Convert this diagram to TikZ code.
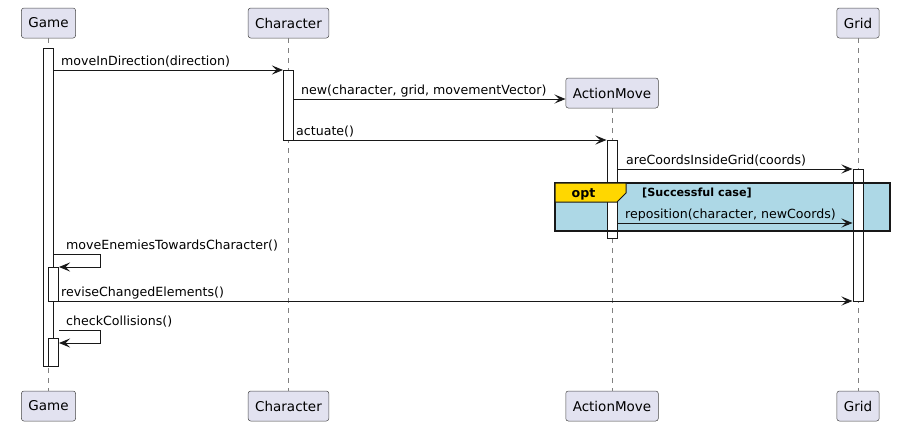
\documentclass[tikz,border=0pt]{standalone}
\usepackage{fontspec}
\setmainfont{DejaVu Sans}
\usetikzlibrary{arrows.meta}
\definecolor{umlline}{HTML}{181818}
\definecolor{umlhead}{HTML}{E2E2F0}
\definecolor{optfill}{HTML}{ADD8E6}
\definecolor{opttab}{HTML}{FFD700}
\begin{document}
\begin{tikzpicture}[x=1pt,y=-1pt,
  every node/.style={font=\fontsize{12.6}{15}\selectfont},
  head/.style={draw=umlline!80,fill=umlhead,rounded corners=2.5pt,line width=0.5pt,
    minimum height=30pt,inner xsep=7pt,font=\fontsize{13.5}{16}\selectfont},
  bar/.style={draw=umlline,fill=white,line width=1pt,minimum width=10pt,inner sep=0pt,anchor=north},
  life/.style={draw=umlline!55,dash pattern=on 5pt off 5pt,line width=0.5pt},
  msg/.style={draw=umlline,line width=1pt,-{Stealth[length=11pt,width=9pt,inset=4.5pt]}},
  lbl/.style={anchor=base west,inner sep=0pt}]
  \useasboundingbox (0,0) rectangle (912,431);
  % participants
  \node[head] (gameTop) at (48.5,23) {Game};
  \node[head] (charTop) at (288.5,23) {Character};
  \node[head] (moveTop) at (612,93) {ActionMove};
  \node[head] (gridTop) at (858,23) {Grid};
  \node[head] (gameBot) at (48.5,406) {Game};
  \node[head] (charBot) at (288.5,406) {Character};
  \node[head] (moveBot) at (612,406) {ActionMove};
  \node[head] (gridBot) at (858,406) {Grid};
  \foreach \p in {game,char,move,grid}
    \draw[life] (\p Top) -- (\p Bot);
  % opt frame
  \fill[optfill] (555,183) rectangle (890,231);
  % activations
  \node[bar,minimum height=318pt] (aGame) at (gameTop |- 0,48) {};
  \node[bar,minimum height=70pt] (aChar) at (charTop |- 0,70) {};
  \node[bar,minimum height=98pt] (aMove) at (moveTop |- 0,140) {};
  \node[bar,minimum height=132pt] (aGrid) at (gridTop |- 0,169) {};
  \node[bar,minimum height=34pt,xshift=5pt] (aEnem) at (gameTop |- 0,267) {};
  \node[bar,minimum height=28pt,xshift=5pt] (aColl) at (gameTop |- 0,338) {};
  \draw[umlline,line width=1.5pt] (555,183) rectangle (890,231);
  \filldraw[fill=opttab,draw=umlline,line width=1pt]
    (555,183) -- (626,183) -- (626,193) -- (617,202) -- (555,202) -- cycle;
  \node[anchor=base,inner sep=0pt,font=\bfseries\fontsize{12.6}{15}\selectfont] (optName) at (583.5,197) {opt};
  \node[lbl,font=\bfseries\fontsize{11.2}{13}\selectfont] (optGuard) at (642,196) {[Successful case]};
  % messages
  \draw[msg] (aGame.east |- 0,70) -- (aChar.west |- 0,70);
  \node[lbl] (lDir) at (61,65) {moveInDirection(direction)};
  \draw[msg] (aChar.east |- 0,99) -- (moveTop.west |- 0,99);
  \node[lbl] (lNew) at (301,94) {new(character, grid, movementVector)};
  \draw[msg] (aChar.east |- 0,140) -- (aMove.west |- 0,140);
  \node[lbl] (lAct) at (296,135) {actuate()};
  \draw[msg] (aMove.east |- 0,169) -- (aGrid.west |- 0,169);
  \node[lbl] (lInside) at (626,164) {areCoordsInsideGrid(coords)};
  \draw[msg] (aMove.east |- 0,223) -- (aGrid.west |- 0,223);
  \node[lbl] (lRepos) at (625,218) {reposition(character, newCoords)};
  \draw[msg] (aGame.east |- 0,254) -- (100,254) -- (100,267) -- (aEnem.east |- 0,267);
  \node[lbl] (lEnem) at (66,249) {moveEnemiesTowardsCharacter()};
  \draw[msg] (aEnem.east |- 0,301) -- (aGrid.west |- 0,301);
  \node[lbl] (lRevise) at (61,296) {reviseChangedElements()};
  \draw[msg] (aEnem.east |- 0,330) -- (100,330) -- (100,343) -- (aColl.east |- 0,343);
  \node[lbl] (lColl) at (66,325) {checkCollisions()};
\end{tikzpicture}
\end{document}
